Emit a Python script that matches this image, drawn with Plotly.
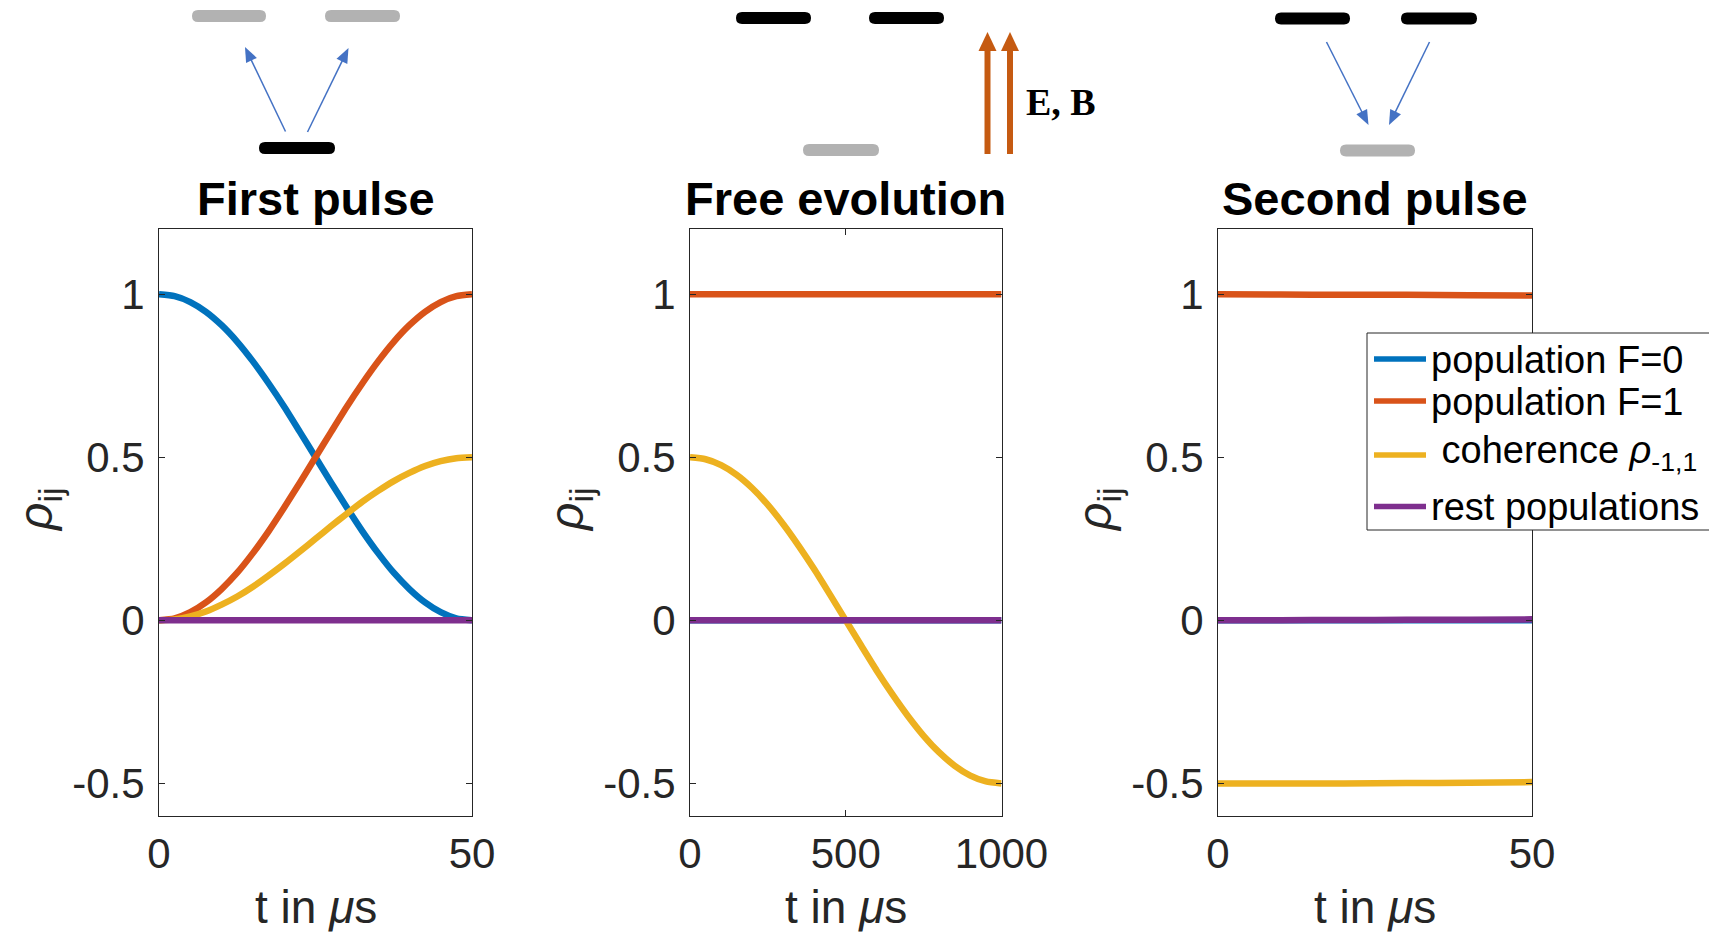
import math
import plotly.graph_objects as go

W, H = 1709, 933

# ---- data -------------------------------------------------------------
# First pulse, t in microseconds
t_first = [0, 2.5, 5, 7.5, 10, 12.5, 15, 17.5, 20, 22.5, 25,
           27.5, 30, 32.5, 35, 37.5, 40, 42.5, 45, 47.5, 50]
f0_first = [1.0, 0.994, 0.976, 0.946, 0.905, 0.854, 0.794, 0.727, 0.655, 0.578, 0.5,
            0.422, 0.346, 0.273, 0.206, 0.146, 0.096, 0.055, 0.025, 0.006, 0.0]
f1_first = [0.0, 0.006, 0.025, 0.055, 0.096, 0.146, 0.206, 0.273, 0.346, 0.422, 0.5,
            0.578, 0.655, 0.727, 0.794, 0.854, 0.905, 0.946, 0.976, 0.994, 1.0]
coh_first = [0.0, 0.003, 0.012, 0.027, 0.048, 0.073, 0.103, 0.137, 0.173, 0.211, 0.25,
             0.289, 0.327, 0.364, 0.397, 0.427, 0.452, 0.473, 0.488, 0.497, 0.5]
rest_first = [0.0, 0.0, 0.0, 0.0, 0.0, 0.0, 0.0, 0.0, 0.0, 0.0, 0.0,
              0.0, 0.0, 0.0, 0.0, 0.0, 0.0, 0.0, 0.0, 0.0, 0.0]

# Free evolution, t in microseconds
t_free = [0, 50, 100, 150, 200, 250, 300, 350, 400, 450, 500,
          550, 600, 650, 700, 750, 800, 850, 900, 950, 1000]
f0_free = [0.0, 0.0, 0.0, 0.0, 0.0, 0.0, 0.0, 0.0, 0.0, 0.0, 0.0,
           0.0, 0.0, 0.0, 0.0, 0.0, 0.0, 0.0, 0.0, 0.0, 0.0]
f1_free = [1.0, 1.0, 1.0, 1.0, 1.0, 1.0, 1.0, 1.0, 1.0, 1.0, 1.0,
           1.0, 1.0, 1.0, 1.0, 1.0, 1.0, 1.0, 1.0, 1.0, 1.0]
coh_free = [0.5, 0.494, 0.476, 0.446, 0.405, 0.354, 0.294, 0.227, 0.155, 0.078, 0.0,
            -0.078, -0.155, -0.227, -0.294, -0.354, -0.405, -0.446, -0.476, -0.494, -0.5]
rest_free = [0.0, 0.0, 0.0, 0.0, 0.0, 0.0, 0.0, 0.0, 0.0, 0.0, 0.0,
             0.0, 0.0, 0.0, 0.0, 0.0, 0.0, 0.0, 0.0, 0.0, 0.0]

# Second pulse, t in microseconds
t_second = [0, 10, 20, 30, 40, 50]
f0_second = [0.0, 0.0, 0.0, 0.0, 0.0, 0.0]
f1_second = [1.0, 0.999, 0.998, 0.998, 0.997, 0.996]
coh_second = [-0.5, -0.5, -0.5, -0.499, -0.498, -0.496]
rest_second = [0.0, 0.0005, 0.001, 0.0015, 0.002, 0.003]

panel_titles = ["First pulse", "Free evolution", "Second pulse"]
x_ranges = [[0, 50], [0, 1000], [0, 50]]
x_tickvals = [[0, 50], [0, 500, 1000], [0, 50]]
y_tickvals = [-0.5, 0, 0.5, 1]
y_ticktext = ["-0.5", "0", "0.5", "1"]
series_names = ["population F=0", "population F=1",
                "\u00a0coherence <i>ρ</i><sub>-1,1</sub>", "rest populations"]
series_colors = ["#0072BD", "#D95319", "#EDB120", "#7E2F8E"]

panels = [
    (t_first, [f0_first, f1_first, coh_first, rest_first]),
    (t_free, [f0_free, f1_free, coh_free, rest_free]),
    (t_second, [f0_second, f1_second, coh_second, rest_second]),
]

# ---- layout helpers (pixel -> paper) ----------------------------------
def px(x):
    return x / W


def py(y):
    return 1 - y / H


axes_left = [159, 690, 1218]
axes_right = [472, 1001.5, 1532]
axes_top, axes_bottom = 229, 816

SANS = "Liberation Sans, Arial, Helvetica, sans-serif"
AXIS_GREY = "#262626"

fig = go.Figure()

for i, (t, series) in enumerate(panels):
    suffix = "" if i == 0 else str(i + 1)
    for name, ys, col in zip(series_names, series, series_colors):
        fig.add_trace(go.Scatter(
            x=t, y=ys, mode="lines", name=name, showlegend=False,
            line=dict(color=col, width=6.5, shape="spline", smoothing=0.6),
            xaxis="x" + suffix, yaxis="y" + suffix,
        ))

layout = dict(
    width=W, height=H,
    margin=dict(l=0, r=0, t=0, b=0, autoexpand=False),
    paper_bgcolor="white", plot_bgcolor="white",
    showlegend=False,
)

for i in range(3):
    suffix = "" if i == 0 else str(i + 1)
    layout["xaxis" + suffix] = dict(
        domain=[px(axes_left[i]), px(axes_right[i])],
        anchor="y" + suffix, range=x_ranges[i],
        tickvals=x_tickvals[i], ticks="inside", ticklen=6, tickwidth=1,
        tickcolor=AXIS_GREY, showline=True, linecolor=AXIS_GREY, linewidth=1,
        mirror="allticks", showgrid=False, zeroline=False,
        tickfont=dict(family=SANS, size=42, color=AXIS_GREY),
        ticklabelstandoff=1,
    )
    layout["yaxis" + suffix] = dict(
        domain=[py(axes_bottom), py(axes_top)],
        anchor="x" + suffix, range=[-0.6, 1.2],
        tickvals=y_tickvals, ticktext=y_ticktext,
        ticks="inside", ticklen=6, tickwidth=1, tickcolor=AXIS_GREY,
        showline=True, linecolor=AXIS_GREY, linewidth=1, mirror="allticks",
        showgrid=False, zeroline=False,
        tickfont=dict(family=SANS, size=42, color=AXIS_GREY),
        ticklabelstandoff=5,
    )

fig.update_layout(**layout)

annotations = []
shapes = []

# panel titles and axis titles
for i in range(3):
    xc = (axes_left[i] + axes_right[i]) / 2
    annotations.append(dict(
        text="<b>%s</b>" % panel_titles[i], x=px(xc), y=py(199),
        xref="paper", yref="paper", xanchor="center", yanchor="middle",
        showarrow=False, font=dict(family=SANS, size=47, color="black"),
    ))
    annotations.append(dict(
        text="t in\u00a0<i>μ</i>s", x=px(xc), y=py(907),
        xref="paper", yref="paper", xanchor="center", yanchor="middle",
        showarrow=False, font=dict(family=SANS, size=46, color=AXIS_GREY),
    ))
    annotations.append(dict(
        text="<i>ρ</i><sub>ij</sub>", x=px(axes_left[i] - 120), y=py(510),
        xref="paper", yref="paper", xanchor="center", yanchor="middle",
        textangle=-90, showarrow=False,
        font=dict(family=SANS, size=48, color=AXIS_GREY),
    ))


# energy-level bars (rounded ends)
def level_bar(x0, x1, yc, color, th=12):
    r = th / 2
    pts = [
        "M%f,%f" % (px(x0 + r), py(yc - r)),
        "L%f,%f" % (px(x1 - r), py(yc - r)),
        "Q%f,%f %f,%f" % (px(x1), py(yc - r), px(x1), py(yc)),
        "Q%f,%f %f,%f" % (px(x1), py(yc + r), px(x1 - r), py(yc + r)),
        "L%f,%f" % (px(x0 + r), py(yc + r)),
        "Q%f,%f %f,%f" % (px(x0), py(yc + r), px(x0), py(yc)),
        "Q%f,%f %f,%f" % (px(x0), py(yc - r), px(x0 + r), py(yc - r)),
        "Z",
    ]
    return dict(type="path", path=" ".join(pts), xref="paper", yref="paper",
                fillcolor=color, line=dict(width=0), layer="above")


GREY_LEVEL = "#B2B2B2"
shapes += [
    level_bar(192, 266, 16, GREY_LEVEL),
    level_bar(325, 400, 16, GREY_LEVEL),
    level_bar(259, 335, 148, "black"),
    level_bar(736, 811, 18, "black"),
    level_bar(869, 944, 18, "black"),
    level_bar(803, 879, 150, GREY_LEVEL),
    level_bar(1275, 1350, 18.5, "black"),
    level_bar(1401, 1477, 18.5, "black"),
    level_bar(1340, 1415, 150.5, GREY_LEVEL),
]


# transition arrows: shaft line plus a filled triangular head
def arrow_shapes(tail, tip, color, lw, head_len, head_w):
    dx, dy = tip[0] - tail[0], tip[1] - tail[1]
    L = math.hypot(dx, dy)
    ux, uy = dx / L, dy / L
    bx, by = tip[0] - ux * head_len, tip[1] - uy * head_len
    nx, ny = -uy, ux
    shaft = dict(type="line", xref="paper", yref="paper",
                 x0=px(tail[0]), y0=py(tail[1]),
                 x1=px(bx + ux), y1=py(by + uy),
                 line=dict(color=color, width=lw), layer="above")
    p1 = (bx + nx * head_w / 2, by + ny * head_w / 2)
    p2 = (bx - nx * head_w / 2, by - ny * head_w / 2)
    head = dict(type="path", xref="paper", yref="paper",
                path="M%f,%f L%f,%f L%f,%f Z" % (px(tip[0]), py(tip[1]),
                                                 px(p1[0]), py(p1[1]),
                                                 px(p2[0]), py(p2[1])),
                fillcolor=color, line=dict(width=0), layer="above")
    return [shaft, head]


BLUE_ARROW = "#4472C4"
ORANGE_ARROW = "#C55A11"
shapes += arrow_shapes((285.5, 131.5), (245, 47), BLUE_ARROW, 1.5, 15, 12)
shapes += arrow_shapes((307.5, 132), (348.5, 48), BLUE_ARROW, 1.5, 15, 12)
shapes += arrow_shapes((1326.5, 42), (1368.5, 125), BLUE_ARROW, 1.5, 15, 12)
shapes += arrow_shapes((1429.5, 42), (1389, 125), BLUE_ARROW, 1.5, 15, 12)
shapes += arrow_shapes((987.5, 154), (987.5, 32), ORANGE_ARROW, 6, 19, 18)
shapes += arrow_shapes((1010, 154), (1010, 32), ORANGE_ARROW, 6, 19, 18)

annotations.append(dict(
    text="<b>E, B</b>", x=px(1061), y=py(102), xref="paper", yref="paper",
    xanchor="center", yanchor="middle", showarrow=False,
    font=dict(family="Liberation Serif, Times New Roman, serif", size=38, color="black"),
))

# legend box
shapes.append(dict(type="rect", xref="paper", yref="paper",
                   x0=px(1367), x1=px(1720), y0=py(333), y1=py(530),
                   line=dict(color=AXIS_GREY, width=1), fillcolor="white", layer="above"))
legend_rows = [359, 401, 455, 506.5]
legend_text_rows = [360.5, 402, 452.5, 507]
for name, col, yl, yt in zip(series_names, series_colors, legend_rows, legend_text_rows):
    shapes.append(dict(type="line", xref="paper", yref="paper",
                       x0=px(1374), x1=px(1426), y0=py(yl), y1=py(yl),
                       line=dict(color=col, width=5.5), layer="above"))
    annotations.append(dict(
        text=name, x=px(1429), y=py(yt), xref="paper", yref="paper",
        xanchor="left", yanchor="middle", showarrow=False,
        font=dict(family=SANS, size=38, color="black"),
    ))

fig.update_layout(annotations=annotations, shapes=shapes)
fig.write_html("out.html")
